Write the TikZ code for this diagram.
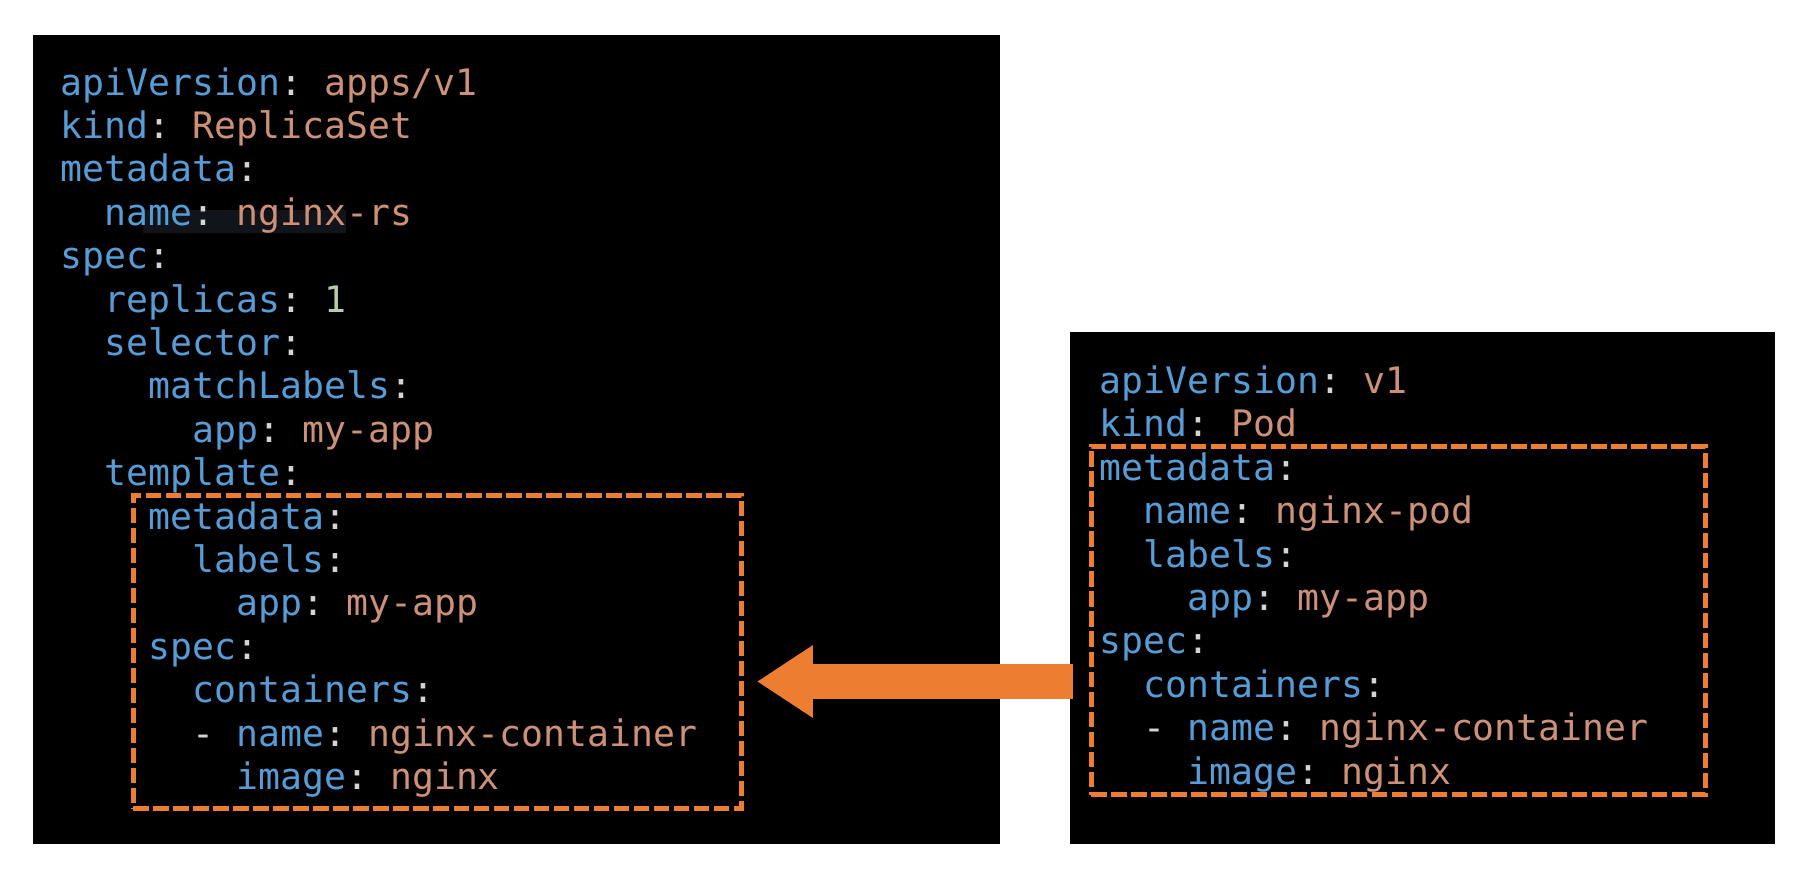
\documentclass[tikz,border=0pt]{standalone}
\usepackage{fontspec}
\setmonofont{DejaVu Sans Mono}
\usetikzlibrary{arrows.meta}
\definecolor{keyblue}{HTML}{569CD6}
\definecolor{valorange}{HTML}{CE9178}
\definecolor{numgreen}{HTML}{B5CEA8}
\definecolor{colon}{HTML}{D4D4D4}
\definecolor{accent}{HTML}{ED7D31}
\definecolor{ghost}{HTML}{111418}
\newcommand{\yk}[1]{\textcolor{keyblue}{#1}}
\newcommand{\yv}[1]{\textcolor{valorange}{#1}}
\newcommand{\yn}[1]{\textcolor{numgreen}{#1}}
\newcommand{\codefont}{\fontsize{10.37pt}{12pt}\selectfont\ttfamily}

\begin{document}
\begin{tikzpicture}[x=0.01cm, y=-0.01cm,
        panel/.style={fill=black, inner sep=0pt, outer sep=0pt},
        dashbox/.style={draw=accent, line width=0.05cm, dash pattern=on 0.153cm off 0.047cm, inner sep=0pt, outer sep=0pt},
        codeline/.style={anchor=base west, inner sep=0pt, outer sep=0pt, text=colon, font=\codefont},
        bigarrow/.style={draw=accent, line width=0.35cm, -{Triangle[length=0.56cm, width=0.687cm]}}]
        \useasboundingbox (0,0) rectangle (1813,893);
        \node[panel, minimum width=9.67cm, minimum height=8.09cm] (lbox) at (516.5,439.5) {};
        \node[panel, minimum width=7.05cm, minimum height=5.12cm] (rbox) at (1422.5,588) {};
        \fill[ghost] (143,210) rectangle (346,233);
        % ReplicaSet
        \foreach \n/\ind/\txt in {
            1/0/{\yk{apiVersion}: \yv{apps/v1}},
            2/0/{\yk{kind}: \yv{ReplicaSet}},
            3/0/{\yk{metadata}:},
            4/2/{\yk{name}: \yv{nginx-rs}},
            5/0/{\yk{spec}:},
            6/2/{\yk{replicas}: \yn{1}},
            7/2/{\yk{selector}:},
            8/4/{\yk{matchLabels}:},
            9/6/{\yk{app}: \yv{my-app}},
            10/2/{\yk{template}:},
            11/4/{\yk{metadata}:},
            12/6/{\yk{labels}:},
            13/8/{\yk{app}: \yv{my-app}},
            14/4/{\yk{spec}:},
            15/6/{\yk{containers}:},
            16/6/{- \yk{name}: \yv{nginx-container}},
            17/8/{\yk{image}: \yv{nginx}}}
            \node[codeline] (l\n) at ({60.7+21.97*\ind},{95+43.4*(\n-1)}) {\txt};
        % Pod
        \foreach \n/\ind/\txt in {
            1/0/{\yk{apiVersion}: \yv{v1}},
            2/0/{\yk{kind}: \yv{Pod}},
            3/0/{\yk{metadata}:},
            4/2/{\yk{name}: \yv{nginx-pod}},
            5/2/{\yk{labels}:},
            6/4/{\yk{app}: \yv{my-app}},
            7/0/{\yk{spec}:},
            8/2/{\yk{containers}:},
            9/2/{- \yk{name}: \yv{nginx-container}},
            10/4/{\yk{image}: \yv{nginx}}}
            \node[codeline] (r\n) at ({1099.7+21.97*\ind},{393.5+43.4*(\n-1)}) {\txt};
        \node[dashbox, minimum width=6.08cm, minimum height=3.12cm] (ldash) at (437.5,652) {};
        \node[dashbox, minimum width=6.135cm, minimum height=3.48cm] (rdash) at (1398.25,620.5) {};
        \coordinate (ay) at (0,681.5);
        \draw[bigarrow, shorten <=-0.03cm, shorten >=0.152cm] (rbox.west |- ay) -- (ldash.east |- ay);
    \end{tikzpicture}
\end{document}
